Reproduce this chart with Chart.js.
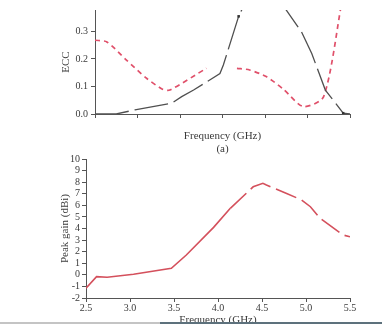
<!DOCTYPE html>
<html>
<head>
<meta charset="utf-8">
<script src="https://cdn.jsdelivr.net/npm/chart.js@4.4.1/dist/chart.umd.min.js"></script>
<style>
    body { margin: 0; background: #fff; }
    #wrap { position: relative; width: 382px; height: 324px; overflow: hidden; }
    canvas { position: absolute; left: 0; }
    #eccChart { top: 0; }
    #gainChart { top: 150px; }
    /* scan artefact strip along the bottom edge */
    .strip { position: absolute; top: 322px; height: 2px; }
</style>
</head>
<body>
<div id="wrap">
    <canvas id="eccChart" width="382" height="156"></canvas>
    <canvas id="gainChart" width="382" height="177"></canvas>
    <div class="strip" style="left:0;width:160px;background:#c4c4c4"></div>
    <div class="strip" style="left:160px;width:222px;background:#5d717c"></div>
</div>
<script>
// (a) ECC curves
const eccBlackFreq = [2.5, 2.75, 2.97, 3.40, 3.52, 3.66, 3.97, 4.01, 4.19, 4.26, 4.70, 4.93, 5.05, 5.21, 5.42, 5.5];
const eccBlackVal  = [0.0, 0.0, 0.015, 0.039, 0.063, 0.087, 0.147, 0.178, 0.355, 0.40, 0.40, 0.298, 0.22, 0.087, 0.003, 0.0];
const eccRedFreq   = [2.5, 2.64, 2.87, 3.11, 3.30, 3.38, 3.81, 4.0, 4.17, 4.32, 4.52, 4.72, 4.95, 5.19, 5.40];
const eccRedVal    = [0.268, 0.262, 0.196, 0.129, 0.089, 0.087, 0.166, null, 0.166, 0.16, 0.135, 0.089, 0.027, 0.063, 0.40];
const eccTicks     = [0.0, 0.1, 0.2, 0.3];

// (b) peak gain
const gainFreq = [2.5, 2.62, 2.74, 3.04, 3.47, 3.64, 3.95, 4.14, 4.40, 4.51, 4.55, 4.78, 4.95, 5.05, 5.16, 5.42, 5.5];
const gainVal  = [-1.16, -0.16, -0.21, 0.05, 0.56, 1.71, 4.1, 5.74, 7.6, 7.9, 7.75, 7.03, 6.46, 5.88, 4.88, 3.44, 3.29];
const gainTicks = [-2, -1, 0, 1, 2, 3, 4, 5, 6, 7, 8, 9, 10];
const freqTicks = [2.5, 3.0, 3.5, 4.0, 4.5, 5.0, 5.5];

const serif = 'Liberation Serif';
const textColor = '#3a3a3a';

function toPoints(xs, ys) {
    return xs.map((x, i) => ({ x: x, y: ys[i] }));
}

function axisStyle() {
    return {
        grid: { display: true, drawOnChartArea: false, drawTicks: true, tickLength: 4, color: '#555', lineWidth: 1 },
        border: { display: true, color: '#555', width: 1 }
    };
}

function buildEcc() {
    const cfg = {
        type: 'line',
        data: {
            datasets: [
                {
                    data: toPoints(eccBlackFreq, eccBlackVal),
                    borderColor: '#4f4f4f',
                    borderWidth: 1.3,
                    borderDash: [34, 6],
                    pointRadius: eccBlackFreq.map((f, i) => (i === 8 || i === 14) ? 1.8 : 0),
                    pointStyle: 'rect',
                    pointBackgroundColor: '#333',
                    pointBorderWidth: 0,
                    tension: 0
                },
                {
                    data: toPoints(eccRedFreq, eccRedVal),
                    borderColor: '#e0506a',
                    borderWidth: 1.7,
                    borderDash: [5, 4],
                    pointRadius: 0,
                    tension: 0.25,
                    spanGaps: false
                }
            ]
        },
        options: {
            responsive: false,
            animation: false,
            devicePixelRatio: 1,
            layout: { padding: { top: 10, right: 32, left: 0, bottom: 0 } },
            plugins: { legend: { display: false }, tooltip: { enabled: false } },
            scales: {
                x: Object.assign(axisStyle(), {
                    type: 'linear', min: 2.5, max: 5.5,
                    afterBuildTicks: s => { s.ticks = freqTicks.map(v => ({ value: v })); },
                    afterFit: s => { s.height = 42; },
                    ticks: { color: 'rgba(0,0,0,0)', autoSkip: false },
                    title: {
                        display: true, text: ['Frequency (GHz)', '(a)'],
                        color: textColor, font: { family: serif, size: 11 }, padding: { top: 0, bottom: 0 }
                    }
                }),
                y: Object.assign(axisStyle(), {
                    type: 'linear', min: 0, max: 0.378,
                    afterBuildTicks: s => { s.ticks = eccTicks.map(v => ({ value: v })); },
                    afterFit: s => { s.width = 95; },
                    ticks: {
                        color: textColor, font: { family: serif, size: 10 }, padding: 3, autoSkip: false,
                        callback: v => v.toFixed(1)
                    },
                    title: {
                        display: true, text: 'ECC',
                        color: textColor, font: { family: serif, size: 11 }, padding: { top: 60, bottom: 0 }
                    }
                })
            }
        }
    };
    new Chart(document.getElementById('eccChart').getContext('2d'), cfg);
}

function buildGain() {
    const cfg = {
        type: 'line',
        data: {
            datasets: [
                {
                    data: toPoints(gainFreq, gainVal),
                    borderColor: '#d4505c',
                    borderWidth: 1.6,
                    pointRadius: 0,
                    tension: 0,
                    segment: {
                        // the scan shows small breaks in the right part of the curve
                        borderDash: ctx => ctx.p0DataIndex >= 7 ? [22, 6] : undefined
                    }
                }
            ]
        },
        options: {
            responsive: false,
            animation: false,
            devicePixelRatio: 1,
            layout: { padding: { top: 9, right: 32, left: 0, bottom: 0 } },
            plugins: { legend: { display: false }, tooltip: { enabled: false } },
            scales: {
                x: Object.assign(axisStyle(), {
                    type: 'linear', min: 2.5, max: 5.5,
                    afterBuildTicks: s => { s.ticks = freqTicks.map(v => ({ value: v })); },
                    afterFit: s => { s.height = 29; },
                    ticks: {
                        color: textColor, font: { family: serif, size: 10 }, padding: 0,
                        maxRotation: 0, autoSkip: false, callback: v => v.toFixed(1)
                    },
                    title: {
                        display: true, text: 'Frequency (GHz)',
                        color: textColor, font: { family: serif, size: 11 }, padding: { top: 0, bottom: 0 }
                    }
                }),
                y: Object.assign(axisStyle(), {
                    type: 'linear', min: -2, max: 10,
                    afterBuildTicks: s => { s.ticks = gainTicks.map(v => ({ value: v })); },
                    afterFit: s => { s.width = 86; },
                    ticks: { color: textColor, font: { family: serif, size: 10 }, padding: 2, autoSkip: false },
                    title: {
                        display: true, text: 'Peak gain (dBi)',
                        color: textColor, font: { family: serif, size: 11 }, padding: { top: 59, bottom: 0 }
                    }
                })
            }
        }
    };
    new Chart(document.getElementById('gainChart').getContext('2d'), cfg);
}

buildEcc();
buildGain();
</script>
</body>
</html>
